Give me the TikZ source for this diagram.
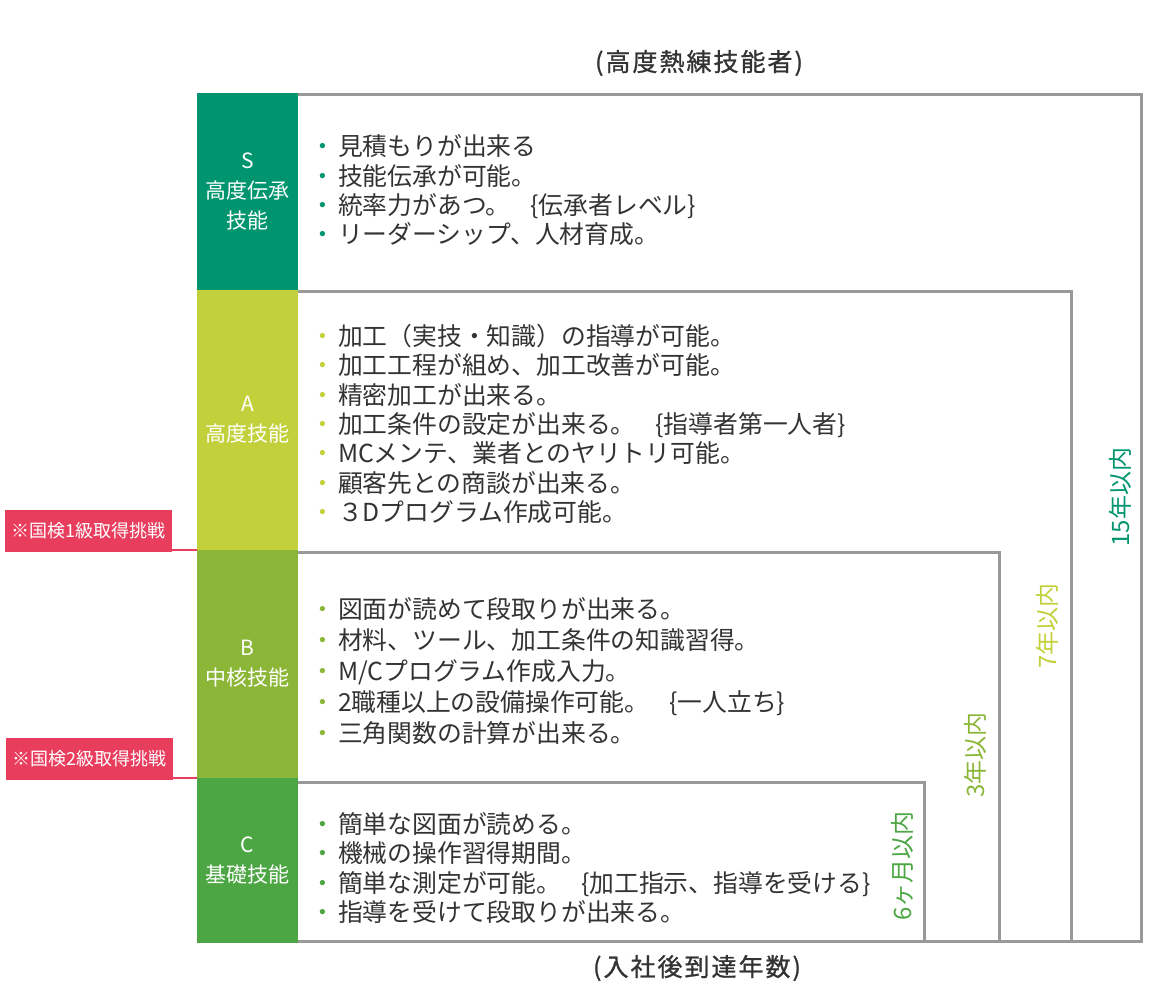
\documentclass[tikz,border=0pt]{standalone}
\usepackage{fontspec}
\setmainfont{Noto Sans CJK JP}
\newfontfamily\ttlfont{Noto Sans CJK JP}[FakeBold=1, LetterSpace=8]
\usetikzlibrary{calc}
\definecolor{cS}{HTML}{00956F}
\definecolor{cA}{HTML}{C2D13B}
\definecolor{cB}{HTML}{8BB637}
\definecolor{cC}{HTML}{4DA644}
\definecolor{frame}{HTML}{999999}
\definecolor{tagred}{HTML}{E83D5D}
\definecolor{ink}{HTML}{333333}
\tikzset{lvl/.style={minimum width=101pt, inner sep=0, text=white, align=center, font=\fontsize{21}{30}\selectfont},
  frm/.style={draw=frame, line width=3pt},
  tag/.style={fill=tagred, text=white, minimum width=167pt, minimum height=42pt, inner sep=0, font=\fontsize{18}{20}\selectfont},
  tagline/.style={draw=tagred, line width=2.5pt},
  yrs/.style={rotate=90, inner sep=0, font=\fontsize{24}{24}\selectfont},
  itm/.style={anchor=west, inner sep=0, align=left, text=ink, font=\fontsize{24.8}{29.3}\selectfont},
  ttl/.style={text=ink, inner sep=0, font=\ttlfont\fontsize{25}{25}\selectfont}}
\newcommand{\bul}[1]{{\color{#1}・}\kern3pt}
\newcommand{\note}[1]{。\hspace{20pt}\{#1\}}

\begin{document}
\begin{tikzpicture}[x=1pt, y=-1pt]
  \useasboundingbox (0,0) rectangle (1170,988);
  % frames, widest first
  \draw[frm] (296,94) rectangle (1141,941);
  \draw[frm] (296,291) rectangle (1071,941);
  \draw[frm] (296,552) rectangle (999,941);
  \draw[frm] (296,782) rectangle (924,941);
  % level column
  \node[lvl, fill=cS, minimum height=197pt] (s) at (247.5,191.5) {S\\高度伝承\\技能};
  \node[lvl, fill=cA, minimum height=260pt] (a) at (247.5,420) {A\\高度技能};
  \node[lvl, fill=cB, minimum height=228pt] (b) at (247.5,664) {B\\中核技能};
  \node[lvl, fill=cC, minimum height=165pt] (c) at (247.5,860.5) {C\\基礎技能};
  % skills
  \node[itm] (sk-s) at (310,190.5) {\bul{cS}見積もりが出来る\\\bul{cS}技能伝承が可能。\\\bul{cS}統率力があつ\note{伝承者レベル}\\\bul{cS}リーダーシップ、人材育成。};
  \node[itm] (sk-a) at (310,424) {\bul{cA}加工（実技・知識）の指導が可能。\\\bul{cA}加工工程が組め、加工改善が可能。\\\bul{cA}精密加工が出来る。\\\bul{cA}加工条件の設定が出来る\note{指導者第一人者}\\\bul{cA}MCメンテ、業者とのヤリトリ可能。\\\bul{cA}顧客先との商談が出来る。\\\bul{cA}３Dプログラム作成可能。};
  \node[itm, font=\fontsize{24.8}{31}\selectfont] (sk-b) at (310,671) {\bul{cB}図面が読めて段取りが出来る。\\\bul{cB}材料、ツール、加工条件の知識習得。\\\bul{cB}M/Cプログラム作成入力。\\\bul{cB}2職種以上の設備操作可能\note{一人立ち}\\\bul{cB}三角関数の計算が出来る。};
  \node[itm] (sk-c) at (310,868) {\bul{cC}簡単な図面が読める。\\\bul{cC}機械の操作習得期間。\\\bul{cC}簡単な測定が可能\note{加工指示、指導を受ける}\\\bul{cC}指導を受けて段取りが出来る。};
  % years
  \node[yrs, text=cC] (m6) at (902,866) {6ヶ月以内};
  \node[yrs, text=cB] (y3) at (975,755) {3年以内};
  \node[yrs, text=cA] (y7) at (1047,626) {7年以内};
  \node[yrs, text=cS] (y15) at (1120,497) {15年以内};
  % exam tags
  \node[tag] (g1) at (88.5,531) {※国検1級取得挑戦};
  \node[tag] (g2) at (89.5,759) {※国検2級取得挑戦};
  \draw[tagline] (g1.east |- b.north west) -- (b.north west);
  \draw[tagline] (g2.east |- c.north west) -- (c.north west);
  % titles
  \node[ttl] (top) at (699,63) {(高度熱練技能者)};
  \node[ttl] (xlab) at (697,968) {(入社後到達年数)};
\end{tikzpicture}
\end{document}
